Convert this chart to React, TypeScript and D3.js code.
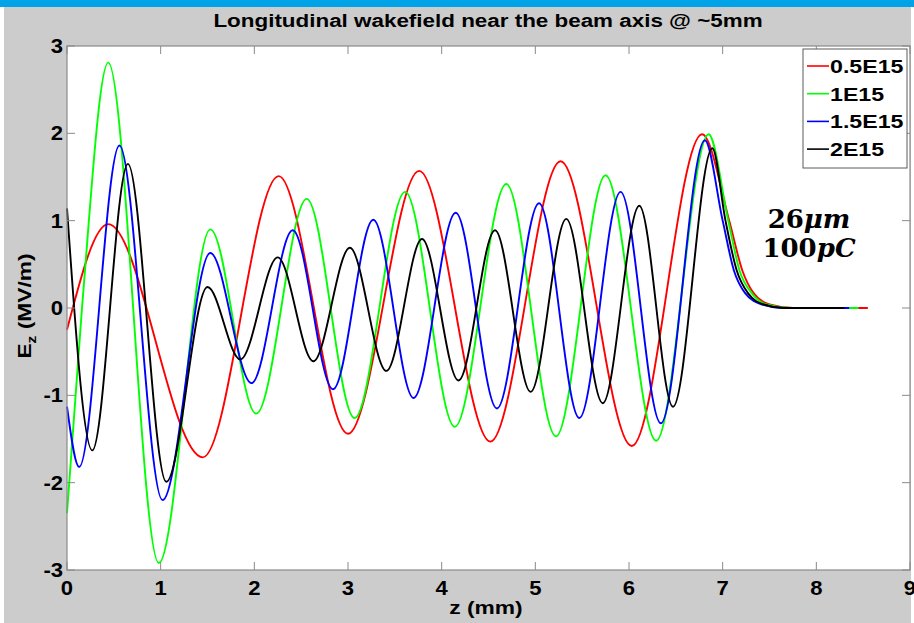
import React, { useRef, useEffect } from "react";
import * as d3 from "d3";

// Ez (MV/m) vs z (mm): extrema + tail points
const seriesNames = ["0.5E15", "1E15", "1.5E15", "2E15"];
const seriesColors = ["#ff0000", "#00ff00", "#0000ff", "#000000"];

const red = [
  [0, -0.25], [0.44, 0.96], [1.45, -1.71], [2.26, 1.51], [3.0, -1.44],
  [3.76, 1.57], [4.52, -1.53], [5.27, 1.68], [6.03, -1.58], [6.78, 1.99],
  [7.07, 1.0], [7.21, 0.43], [7.33, 0.17], [7.5, 0.04], [7.75, 0], [8.55, 0],
];
const green = [
  [0, -2.35], [0.16, 0], [0.44, 2.81], [0.98, -2.92], [1.53, 0.9], [2.02, -1.21],
  [2.56, 1.25], [3.07, -1.26], [3.61, 1.33], [4.14, -1.36], [4.69, 1.42],
  [5.22, -1.47], [5.75, 1.52], [6.29, -1.52], [6.85, 1.99], [7.06, 1.0],
  [7.18, 0.43], [7.31, 0.17], [7.47, 0.04], [7.72, 0], [8.45, 0],
];
const blue = [
  [0, -1.13], [0.13, -1.82], [0.56, 1.86], [1.02, -2.2], [1.53, 0.63],
  [1.97, -0.86], [2.41, 0.89], [2.84, -0.93], [3.27, 1.01], [3.7, -1.03],
  [4.15, 1.09], [4.59, -1.15], [5.04, 1.2], [5.47, -1.26], [5.91, 1.33],
  [6.34, -1.32], [6.81, 1.92], [7.0, 1.0], [7.12, 0.43], [7.24, 0.17],
  [7.42, 0.04], [7.65, 0], [8.35, 0],
];
const black = [
  [0, 1.14], [0.27, -1.63], [0.65, 1.65], [1.06, -1.99], [1.5, 0.24],
  [1.85, -0.59], [2.25, 0.58], [2.63, -0.61], [3.02, 0.69], [3.41, -0.72],
  [3.79, 0.79], [4.18, -0.83], [4.57, 0.89], [4.95, -0.96], [5.33, 1.02],
  [5.72, -1.09], [6.11, 1.17], [6.47, -1.13], [6.89, 1.83], [7.03, 1.0],
  [7.15, 0.43], [7.27, 0.17], [7.44, 0.04], [7.65, 0], [8.3, 0],
];
const allSeries = [red, green, blue, black];

const xTicks = [0, 1, 2, 3, 4, 5, 6, 7, 8, 9];
const yTicks = [-3, -2, -1, 0, 1, 2, 3];

const titleText = "Longitudinal wakefield near the beam axis @ ~5mm";

function App() {
  const svgRef = useRef(null);

  useEffect(() => {
    const W = 914;
    const H = 623;
    const left = 67, right = 910, top = 46, bottom = 570;
    const font = "'Liberation Sans', Arial, sans-serif";
    const axisGray = "#8a8a8a";

    const svg = d3.select(svgRef.current).attr("width", W).attr("height", H);
    svg.selectAll("*").remove();

    // slide background + figure window
    svg.append("rect").attr("width", W).attr("height", H).attr("fill", "#ffffff");
    svg.append("rect").attr("width", W).attr("height", 7).attr("fill", "#00a3e8");
    svg.append("rect").attr("x", 4).attr("y", 7).attr("width", 907).attr("height", H - 7).attr("fill", "#cccccc");

    const x = d3.scaleLinear().domain([0, 9]).range([left, right]);
    const y = d3.scaleLinear().domain([-3, 3]).range([bottom, top]);

    svg.append("rect")
      .attr("x", left).attr("y", top)
      .attr("width", right - left).attr("height", bottom - top)
      .attr("fill", "#ffffff");

    // curves
    const line = d3.line()
      .x(d => x(d[0]))
      .y(d => y(d[1]))
      .curve(d3.curveMonotoneX);

    allSeries.forEach((s, i) => {
      svg.append("path")
        .attr("d", line(s))
        .attr("fill", "none")
        .attr("stroke", seriesColors[i])
        .attr("stroke-width", 1.9);
    });

    // box + inward ticks on all sides
    const tk = svg.append("g").attr("stroke", axisGray).attr("stroke-width", 1);
    xTicks.forEach(t => {
      tk.append("line").attr("x1", x(t)).attr("x2", x(t)).attr("y1", bottom).attr("y2", bottom - 8);
      tk.append("line").attr("x1", x(t)).attr("x2", x(t)).attr("y1", top).attr("y2", top + 8);
    });
    yTicks.forEach(t => {
      tk.append("line").attr("x1", left).attr("x2", left + 8).attr("y1", y(t)).attr("y2", y(t));
      tk.append("line").attr("x1", right).attr("x2", right - 8).attr("y1", y(t)).attr("y2", y(t));
    });
    svg.append("rect")
      .attr("x", left).attr("y", top)
      .attr("width", right - left).attr("height", bottom - top)
      .attr("fill", "none").attr("stroke", axisGray).attr("stroke-width", 1.2);

    const label = (px, py, s, size, anchor, sx) =>
      svg.append("text")
        .attr("transform", `translate(${px},${py}) scale(${sx},1)`)
        .attr("text-anchor", anchor)
        .attr("font-family", font)
        .attr("font-weight", "bold")
        .attr("font-size", size)
        .attr("fill", "#000")
        .text(s);

    // tick labels
    xTicks.forEach(t => label(x(t), 595, String(t), 21, "middle", 1.05));
    yTicks.forEach(t => label(63, y(t) + 7, String(t), 21, "end", 1.05));

    // title and axis labels
    label(488, 27, titleText, 19, "middle", 1.18);
    label(486, 614, "z (mm)", 19, "middle", 1.2);

    const yl = svg.append("text")
      .attr("transform", "translate(31,306) rotate(-90) scale(1.2,1)")
      .attr("text-anchor", "middle")
      .attr("font-family", font)
      .attr("font-weight", "bold")
      .attr("font-size", 19);
    yl.append("tspan").text("E");
    yl.append("tspan").attr("font-size", 13).attr("dy", 5).text("z");
    yl.append("tspan").attr("dy", -5).text(" (MV/m)");

    // legend
    const lg = svg.append("g");
    lg.append("rect")
      .attr("x", 803).attr("y", 49).attr("width", 104).attr("height", 119)
      .attr("fill", "#ffffff").attr("stroke", "#5a5a5a").attr("stroke-width", 1);
    seriesNames.forEach((n, i) => {
      const ry = 66 + i * 27.7;
      lg.append("line")
        .attr("x1", 807).attr("x2", 829).attr("y1", ry).attr("y2", ry)
        .attr("stroke", seriesColors[i]).attr("stroke-width", 1.6);
      label(830, ry + 7, n, 19, "start", 1.22);
    });

    // annotation
    const ann = [["26", "\u03bcm", 228], ["100", "pC", 257]];
    ann.forEach(([num, unit, by]) => {
      const t = svg.append("text")
        .attr("x", 809).attr("y", by)
        .attr("text-anchor", "middle")
        .attr("font-family", "'DejaVu Serif', serif")
        .attr("font-weight", "bold")
        .attr("font-size", 26);
      t.append("tspan").text(num);
      t.append("tspan").attr("font-style", "italic").text(unit);
    });
  }, []);

  return <svg ref={svgRef} style={{ position: "absolute", left: 0, top: 0 }}></svg>;
}

export default App;
